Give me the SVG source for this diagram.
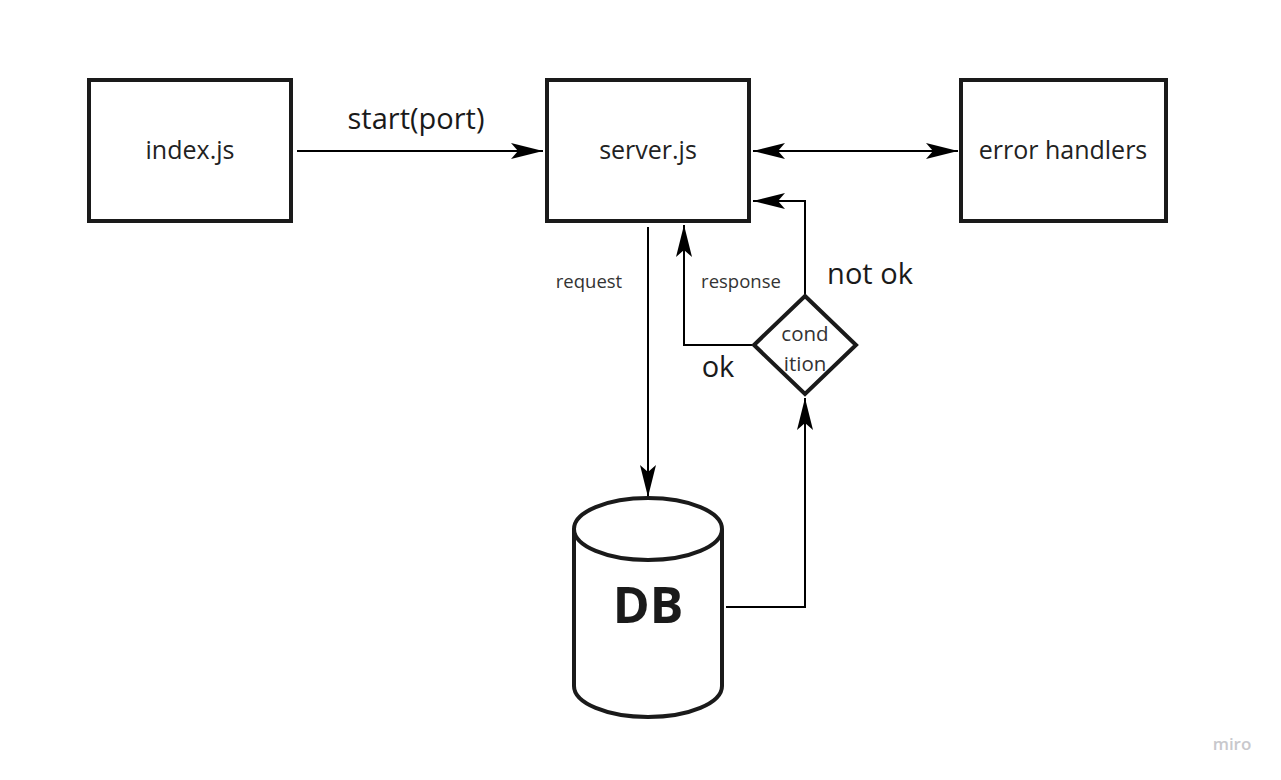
<svg xmlns="http://www.w3.org/2000/svg" width="1281" height="780" viewBox="0 0 1281 780">
<defs>
<style>
.box{fill:#fff;stroke:#1a1a1a;stroke-width:4}
.ln{fill:none;stroke:#000;stroke-width:2}
.t{font-family:"Open Sans","Noto Sans",sans-serif;fill:#1a1a1a;text-anchor:middle}
.n{font-size:25px;fill:#222}
.lb{font-size:29px}
.sm{font-size:18.5px;fill:#333}
</style>
<marker id="ah" viewBox="0 0 32 16" refX="32" refY="8" markerWidth="32" markerHeight="16" markerUnits="userSpaceOnUse" orient="auto-start-reverse">
<path d="M0,0 L32,8 L0,16 L7,8 Z" fill="#000"/>
</marker>
</defs>
<rect width="1281" height="780" fill="#fff"/>
<g id="connectors">
<line class="ln" x1="297" y1="151" x2="543" y2="151" marker-end="url(#ah)"/>
<line class="ln" x1="753" y1="151" x2="958" y2="151" marker-start="url(#ah)" marker-end="url(#ah)"/>
<polyline class="ln" points="805,296 805,201 753,201" marker-end="url(#ah)"/>
<line class="ln" x1="648" y1="227" x2="648" y2="497" marker-end="url(#ah)"/>
<polyline class="ln" points="752,345 684,345 684,225" marker-end="url(#ah)"/>
<polyline class="ln" points="726,607 805,607 805,398" marker-end="url(#ah)"/>
<text class="t lb" x="416" y="129">start(port)</text>
<text class="t sm" x="589" y="288">request</text>
<text class="t sm" x="741" y="288">response</text>
<text class="t lb" x="870" y="284">not ok</text>
<text class="t lb" x="718" y="377">ok</text>
</g>
<g id="index">
<rect class="box" x="89" y="80" width="202" height="141"/>
<text class="t n" x="190" y="159">index.js</text>
</g>
<g id="server">
<rect class="box" x="547" y="80" width="202" height="141"/>
<text class="t n" x="648" y="159">server.js</text>
</g>
<g id="errors">
<rect class="box" x="961" y="80" width="205" height="141"/>
<text class="t n" x="1063" y="159">error handlers</text>
</g>
<g id="condition">
<polygon class="box" points="805,296 856,345 805,394 754,345"/>
<text class="t" style="font-size:20.5px;fill:#333" x="805" y="341">cond</text>
<text class="t" style="font-size:20.5px;fill:#333" x="805" y="371">ition</text>
</g>
<g id="db">
<path class="box" d="M574,529 L574,686 A74,31 0 0 0 722,686 L722,529"/>
<ellipse class="box" cx="648" cy="529" rx="74" ry="31"/>
<text class="t" style="font-size:50px;font-weight:bold" x="648" y="623">DB</text>
</g>
<text x="1232" y="750" style="font-family:'Open Sans',sans-serif;font-size:17px;fill:#c8c8cc;text-anchor:middle;font-weight:600">miro</text>
</svg>
